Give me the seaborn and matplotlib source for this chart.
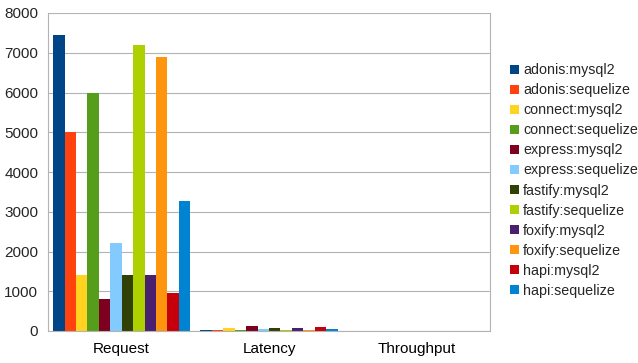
import matplotlib
matplotlib.use("Agg")
import matplotlib.pyplot as plt
import seaborn as sns
import pandas as pd
from matplotlib.patches import Patch

categories = ["Request", "Latency", "Throughput"]
series = ["adonis:mysql2", "adonis:sequelize", "connect:mysql2", "connect:sequelize",
          "express:mysql2", "express:sequelize", "fastify:mysql2", "fastify:sequelize",
          "foxify:mysql2", "foxify:sequelize", "hapi:mysql2", "hapi:sequelize"]
request = [7450, 5000, 1400, 6000, 800, 2220, 1400, 7200, 1400, 6900, 950, 3280]
latency = [20, 25, 70, 30, 125, 40, 70, 30, 65, 25, 105, 40]
throughput = [1, 1, 1, 1, 1, 1, 1, 1, 1, 1, 1, 1]
colors = ["#004586", "#ff420e", "#ffd320", "#579d1c", "#7e0021", "#83caff",
          "#314004", "#aecf00", "#4b1f6f", "#ff950e", "#c5000b", "#0084d1"]

rows = []
for cat, vals in zip(categories, [request, latency, throughput]):
    for s, v in zip(series, vals):
        rows.append({"category": cat, "series": s, "value": v})
df = pd.DataFrame(rows)

sns.set_style("white")
plt.rcParams["font.family"] = ["Liberation Sans", "DejaVu Sans"]

fig = plt.figure(figsize=(6.38, 3.63), dpi=100)
ax = fig.add_axes([48/638, 1-331/363, (490-48)/638, (331-13)/363])
sns.barplot(data=df, x="category", y="value", hue="series", palette=colors,
            order=categories, hue_order=series, width=0.93, gap=0,
            errorbar=None, ax=ax, legend=False, saturation=1, linewidth=0)

ax.set_xlim(-0.5, 2.5)
ax.set_ylim(0, 8000)
ax.set_yticks(range(0, 8001, 1000))
ax.yaxis.grid(True, color="#b3b3b3", linewidth=0.8)
ax.set_axisbelow(True)
ax.set_xlabel("")
ax.set_ylabel("")
ax.spines["top"].set_visible(False)
for side in ["left", "right", "bottom"]:
    ax.spines[side].set_color("#b3b3b3")
    ax.spines[side].set_linewidth(0.8)
ax.set_xticks([0, 1, 2])
ax.set_xticklabels(categories)
ax.set_xticks([-0.5, 0.5, 1.5, 2.5], minor=True)
ax.tick_params(axis="x", which="major", length=0, pad=8, labelsize=11, colors="#000000")
ax.tick_params(axis="x", which="minor", length=5, color="#b3b3b3", width=0.8)
ax.tick_params(axis="y", length=5, color="#b3b3b3", width=0.8, labelsize=11, pad=2)

handles = [Patch(facecolor=c, edgecolor="none") for c in colors]
fig.legend(handles, series, loc="center left", bbox_to_anchor=(510/638, 1-180.5/363),
           frameon=False, fontsize=10.3, handlelength=0.6, handleheight=0.6,
           handletextpad=0.3, labelspacing=0.42, borderaxespad=0, borderpad=0)

fig.savefig("out.png", dpi=100)
